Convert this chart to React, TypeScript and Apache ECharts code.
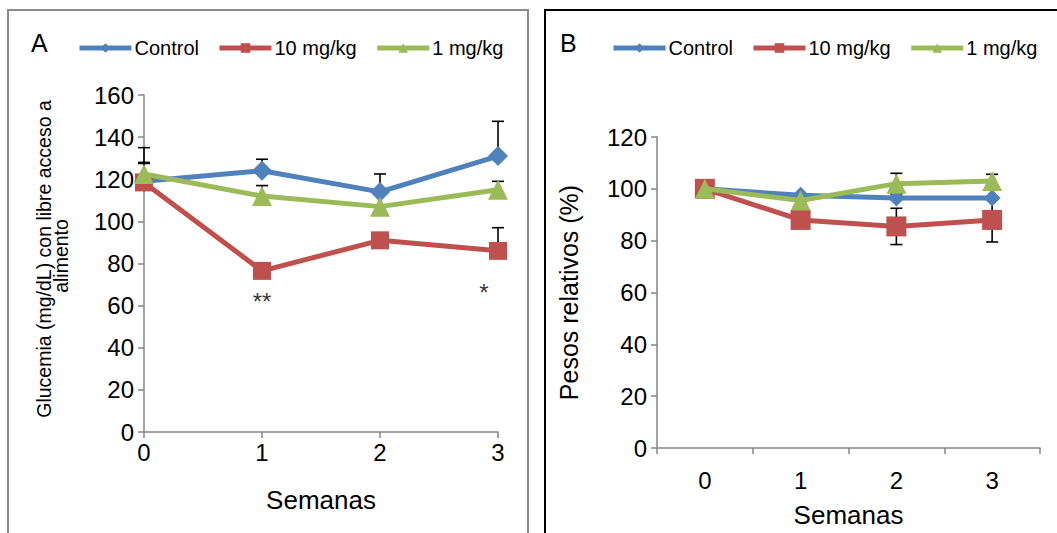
import React, { useEffect, useRef } from "react";
import * as echarts from "echarts";

const seriesNames = ["Control", "10 mg/kg", "1 mg/kg"];
const colors = ["#4F81BD", "#C0504D", "#9BBB59"];
const symbols = ["diamond", "rect", "triangle"];

// Panel A: weeks (value axis)
const weeksA = [0, 1, 2, 3];
const glucControl = [119, 124, 114, 131];
const gluc10 = [118.5, 76.5, 91, 86];
const gluc1 = [122.5, 112, 107, 115];
// upper error limits (Excel plus-only bars)
const glucControlHigh = [135, 129.5, 122.5, 147.5];
const gluc10High = [128, 76.5, 91, 97];
const gluc1High = [127.5, 117, 107, 119];
const starsA = [
  { x: 1, y: 62, text: "**" },
  { x: 2.88, y: 66, text: "*" },
];
const titleA = ["Glucemia (mg/dL) con libre acceso a", "alimento"];

// Panel B: weeks (category axis)
const weeksB = ["0", "1", "2", "3"];
const pesoControl = [100, 97.5, 96.5, 96.5];
const peso10 = [100, 88, 85.5, 88];
const peso1 = [100, 95.5, 102, 103];
const peso10Err = [0, 0, 7, 8.5];
const peso1Err = [0, 0, 4, 2.6];

const yTicksA = { min: 0, max: 160, interval: 20 };
const yTicksB = { min: 0, max: 120, interval: 20 };

function errRender(params: any, api: any) {
  const x = api.value(0);
  const mean = api.value(1);
  const low = api.value(2);
  const high = api.value(3);
  const pHigh = api.coord([x, high]);
  const pLow = api.coord([x, low]);
  const pMean = api.coord([x, mean]);
  const children: any[] = [];
  const style = { stroke: "#000", lineWidth: 1.6 };
  const cw = 6;
  if (high > mean) {
    children.push({ type: "line", shape: { x1: pMean[0], y1: pMean[1], x2: pHigh[0], y2: pHigh[1] }, style });
    children.push({ type: "line", shape: { x1: pHigh[0] - cw, y1: pHigh[1], x2: pHigh[0] + cw, y2: pHigh[1] }, style });
  }
  if (low < mean) {
    children.push({ type: "line", shape: { x1: pMean[0], y1: pMean[1], x2: pLow[0], y2: pLow[1] }, style });
    children.push({ type: "line", shape: { x1: pLow[0] - cw, y1: pLow[1], x2: pLow[0] + cw, y2: pLow[1] }, style });
  }
  return { type: "group", children };
}

export default function App() {
  const ref = useRef<HTMLDivElement>(null);
  useEffect(() => {
    if (!ref.current) return;
    const chart = echarts.init(ref.current, null, { renderer: "svg" });
    const font = "Liberation Sans, Arial, sans-serif";
    const axisLine = { show: true, lineStyle: { color: "#868686", width: 1.5 } };
    const axisTick = { show: true, length: 6, lineStyle: { color: "#868686", width: 1.5 } };

    const dataA = [glucControl, gluc10, gluc1];
    const highA = [glucControlHigh, gluc10High, gluc1High];
    const dataB = [pesoControl, peso10, peso1];
    const errB = [[0, 0, 0, 0], peso10Err, peso1Err];

    const symSizeA = [20, 18, 20];
    const symSizeB = [17, 20, 20];

    const series: any[] = [];
    seriesNames.forEach((name, i) => {
      series.push({
        type: "custom",
        name: name + " errA",
        xAxisIndex: 0,
        yAxisIndex: 0,
        renderItem: errRender,
        z: 1,
        data: weeksA.map((w, k) => [w, dataA[i][k], dataA[i][k], highA[i][k]]),
      });
    });
    seriesNames.forEach((name, i) => {
      series.push({
        type: "custom",
        name: name + " errB",
        xAxisIndex: 1,
        yAxisIndex: 1,
        renderItem: errRender,
        z: 1,
        data: weeksB.map((w, k) => [k, dataB[i][k], dataB[i][k] - errB[i][k], dataB[i][k] + errB[i][k]]),
      });
    });
    seriesNames.forEach((name, i) => {
      series.push({
        type: "line",
        name,
        xAxisIndex: 0,
        yAxisIndex: 0,
        z: 3 + i,
        symbol: symbols[i],
        symbolSize: symSizeA[i],
        data: weeksA.map((w, k) => [w, dataA[i][k]]),
        lineStyle: { color: colors[i], width: 5 },
        itemStyle: { color: colors[i] },
      });
    });
    seriesNames.forEach((name, i) => {
      series.push({
        type: "line",
        name,
        xAxisIndex: 1,
        yAxisIndex: 1,
        z: 3 + i,
        symbol: symbols[i],
        symbolSize: symSizeB[i],
        data: dataB[i],
        lineStyle: { color: colors[i], width: 5 },
        itemStyle: { color: colors[i] },
      });
    });
    series.push({
      type: "scatter",
      name: "stars",
      xAxisIndex: 0,
      yAxisIndex: 0,
      symbolSize: 0,
      z: 10,
      data: starsA.map((s) => ({ value: [s.x, s.y], label: { formatter: s.text } })),
      label: { show: true, position: "inside", color: "#000", fontSize: 24, fontFamily: font },
    });

    const legendCommon = {
      data: seriesNames,
      itemWidth: 52,
      itemHeight: 12,
      itemGap: 18,
      lineStyle: { width: 5 },
      textStyle: { fontSize: 20, fontFamily: font, color: "#000", padding: [0, 0, 0, -2] },
      selectedMode: false,
    };

    chart.setOption({
      animation: false,
      backgroundColor: "#fff",
      textStyle: { fontFamily: font },
      legend: [
        { ...legendCommon, left: 72, top: 33 },
        { ...legendCommon, left: 606, top: 33 },
      ],
      graphic: [
        { type: "rect", shape: { x: 8, y: 10, width: 520, height: 540 }, style: { fill: "none", stroke: "#8c8c8c", lineWidth: 2 } },
        { type: "rect", shape: { x: 545, y: 10, width: 540, height: 540 }, style: { fill: "none", stroke: "#000", lineWidth: 2 } },
        { type: "text", left: 31, top: 30, style: { text: "A", fontSize: 25, fontFamily: font, fill: "#000" } },
        { type: "text", left: 560, top: 30, style: { text: "B", fontSize: 25, fontFamily: font, fill: "#000" } },
        {
          type: "text", x: 44, y: 259, rotation: Math.PI / 2,
          style: { text: titleA[0], fontSize: 19.5, fontFamily: font, fill: "#000", align: "center", verticalAlign: "middle" },
        },
        {
          type: "text", x: 61, y: 256, rotation: Math.PI / 2,
          style: { text: titleA[1], fontSize: 19.5, fontFamily: font, fill: "#000", align: "center", verticalAlign: "middle" },
        },
      ],
      grid: [
        { left: 144, top: 95, width: 354, height: 337 },
        { left: 657, top: 137, width: 383, height: 317 },
      ],
      xAxis: [
        {
          type: "value",
          gridIndex: 0,
          min: 0,
          max: 3,
          interval: 1,
          axisLine,
          axisTick,
          splitLine: { show: false },
          axisLabel: { fontSize: 24, color: "#000", margin: 8, fontFamily: font },
          name: "Semanas",
          nameLocation: "middle",
          nameGap: 55,
          nameTextStyle: { fontSize: 26, color: "#000", fontFamily: font },
        },
        {
          type: "category",
          gridIndex: 1,
          data: weeksB,
          boundaryGap: true,
          axisLine,
          axisTick: { ...axisTick, alignWithLabel: false },
          axisLabel: { fontSize: 24, color: "#000", margin: 20, fontFamily: font },
          name: "Semanas",
          nameLocation: "middle",
          nameGap: 54,
          nameTextStyle: { fontSize: 26, color: "#000", fontFamily: font },
        },
      ],
      yAxis: [
        {
          type: "value",
          gridIndex: 0,
          ...yTicksA,
          axisLine,
          axisTick,
          splitLine: { show: false },
          axisLabel: { fontSize: 24, color: "#000", margin: 10, fontFamily: font },
        },
        {
          type: "value",
          gridIndex: 1,
          ...yTicksB,
          axisLine,
          axisTick,
          splitLine: { show: false },
          axisLabel: { fontSize: 24, color: "#000", margin: 10, fontFamily: font },
          name: "Pesos relativos (%)",
          nameLocation: "middle",
          nameRotate: 90,
          nameGap: 76,
          nameTextStyle: { fontSize: 25, color: "#000", fontFamily: font },
        },
      ],
      series,
    });
    return () => chart.dispose();
  }, []);
  return <div ref={ref} style={{ position: "fixed", left: 0, top: 0, width: 1057, height: 533 }} />;
}
